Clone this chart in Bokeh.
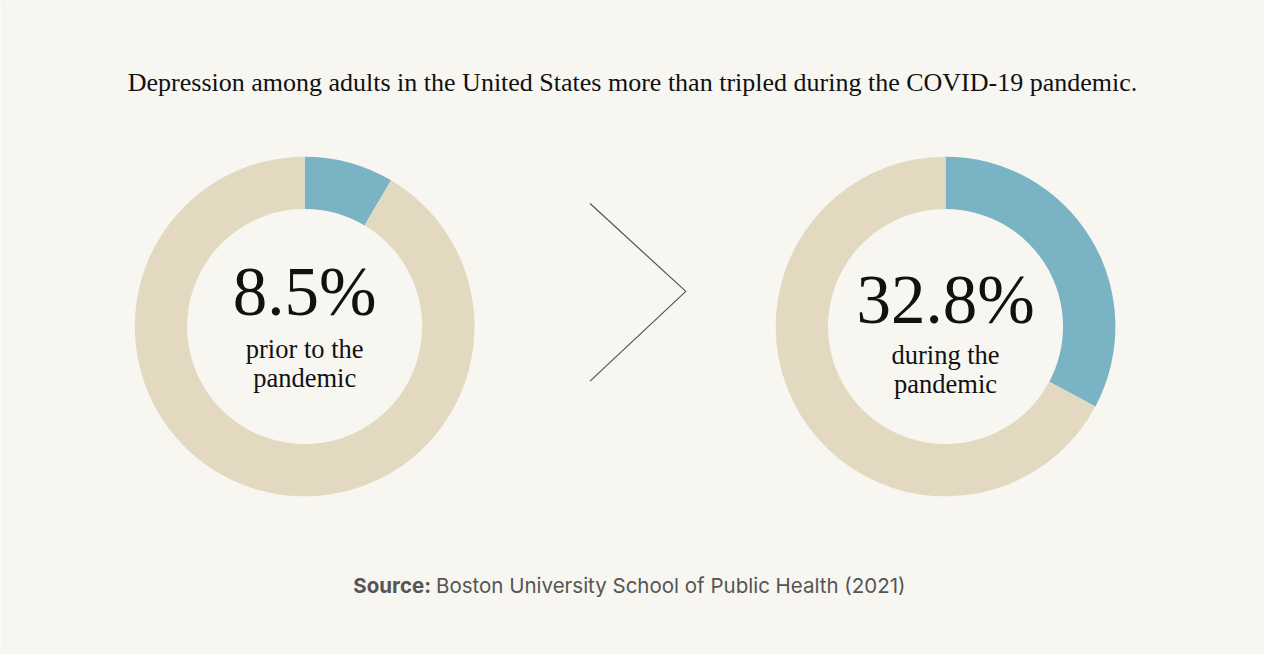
import math
from bokeh.plotting import figure
from bokeh.models import Range1d
from bokeh.core.properties import value
from bokeh.embed import file_html
from bokeh.resources import INLINE

# ---- data ----
labels = ["prior to the\npandemic", "during the\npandemic"]
percents = [8.5, 32.8]
title_text = "Depression among adults in the United States more than tripled during the COVID-19 pandemic."
source_bold = "Source:"
source_rest = "Boston University School of Public Health (2021)"

BG = "#f7f6f1"
TAN = "#e3d9c1"
BLUE = "#7ab3c4"
W, H = 1264, 654

# data space = reference picture space (1280 x 670), y measured upward
p = figure(width=W, height=H, output_backend="svg", toolbar_location=None,
           x_range=Range1d(0, 1280), y_range=Range1d(0, 670),
           min_border=0)
p.axis.visible = False
p.grid.visible = False
p.outline_line_color = None
p.background_fill_color = BG
p.border_fill_color = BG

def sy(y):
    return 670 - y

centers_x = [308, 957]
cy = sy(334)
R_OUT, R_IN = 172, 119

for cx, pct in zip(centers_x, percents):
    frac = pct / 100.0
    top = math.pi / 2
    split = top - frac * 2 * math.pi
    p.annular_wedge(x=[cx], y=[cy], inner_radius=R_IN, outer_radius=R_OUT,
                    start_angle=[split], end_angle=[top],
                    fill_color=BLUE, line_color=None)
    p.annular_wedge(x=[cx], y=[cy], inner_radius=R_IN, outer_radius=R_OUT,
                    start_angle=[top], end_angle=[split + 2 * math.pi],
                    fill_color=TAN, line_color=None)

big_y = [sy(299), sy(307)]
for cx, pct, by in zip(centers_x, percents, big_y):
    p.text(x=[cx], y=[by], text=[f"{pct}%"], text_align="center", text_baseline="middle",
           text_font=value("Liberation Serif"), text_font_size="69px", text_color="#111111")

sub_y = [sy(357), sy(363)]
for cx, lab, ly in zip(centers_x, labels, sub_y):
    for i, line in enumerate(lab.split("\n")):
        p.text(x=[cx], y=[ly - 30 * i], text=[line], text_align="center", text_baseline="middle",
               text_font=value("Liberation Serif"), text_font_size="26.5px", text_color="#111111")

# chevron
p.line(x=[597, 694, 597], y=[sy(208), sy(298), sy(390)], line_color="#555555", line_width=1.2)

# title
p.text(x=[640], y=[sy(84)], text=[title_text], text_align="center", text_baseline="middle",
       text_font=value("Liberation Serif"), text_font_size="26px", text_color="#111111")

# source
p.text(x=[436], y=[sy(599)], text=[source_bold], text_align="right", text_baseline="middle",
       text_font=value("Inter"), text_font_size="20.5px", text_font_style="bold", text_color="#555555")
p.text(x=[441], y=[sy(599)], text=[source_rest], text_align="left", text_baseline="middle",
       text_font=value("Inter"), text_font_size="20.5px", text_color="#555555")

open("out.html", "w").write(file_html(p, INLINE))
